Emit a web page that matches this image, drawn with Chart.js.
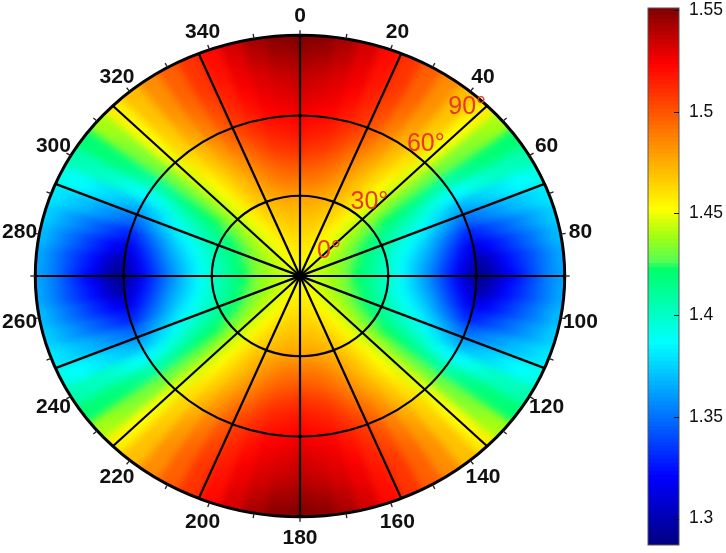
<!DOCTYPE html>
<html>
<head>
<meta charset="utf-8">
<title>Polar map</title>
<script src="https://cdn.jsdelivr.net/npm/chart.js@4"></script>
<style>
  body { margin: 0; background: #fff; overflow: hidden; }
  #polar { position: absolute; left: 0; top: -10px; }
  #bar { position: absolute; left: 640px; top: 0; }
</style>
</head>
<body>
<canvas id="polar" width="620" height="573"></canvas>
<canvas id="bar" width="86" height="553"></canvas>
<script>
// values, one list per azimuth (0-90), from centre to rim in 3 deg rings
const az00 = [1.450,1.451,1.452,1.454,1.457,1.460,1.463,1.467,1.471,1.475,1.481,1.486,1.492,1.498,1.503,1.509,1.513,1.517,1.520,1.523,1.526,1.529,1.531,1.534,1.536,1.538,1.541,1.544,1.547,1.550];
const az05 = [1.451,1.454,1.456,1.458,1.461,1.464,1.467,1.470,1.473,1.476,1.482,1.487,1.492,1.496,1.501,1.506,1.510,1.514,1.517,1.520,1.524,1.526,1.529,1.531,1.533,1.536,1.539,1.542,1.545,1.548];
const az10 = [1.451,1.453,1.456,1.458,1.460,1.463,1.466,1.469,1.472,1.475,1.480,1.485,1.490,1.494,1.499,1.504,1.508,1.512,1.515,1.518,1.522,1.524,1.526,1.528,1.530,1.531,1.534,1.537,1.539,1.542];
const az15 = [1.451,1.453,1.455,1.457,1.459,1.461,1.464,1.467,1.470,1.473,1.477,1.481,1.486,1.489,1.493,1.498,1.502,1.506,1.509,1.512,1.515,1.518,1.520,1.522,1.525,1.526,1.527,1.529,1.531,1.532];
const az20 = [1.451,1.452,1.454,1.456,1.457,1.459,1.462,1.465,1.467,1.470,1.474,1.477,1.480,1.484,1.487,1.490,1.494,1.498,1.502,1.506,1.509,1.510,1.512,1.514,1.515,1.517,1.518,1.519,1.520,1.521];
const az25 = [1.451,1.452,1.453,1.454,1.455,1.457,1.460,1.462,1.464,1.467,1.469,1.472,1.474,1.476,1.479,1.482,1.485,1.489,1.492,1.495,1.498,1.500,1.502,1.504,1.506,1.507,1.508,1.508,1.508,1.509];
const az30 = [1.450,1.451,1.452,1.452,1.453,1.454,1.456,1.458,1.460,1.462,1.464,1.466,1.468,1.469,1.471,1.473,1.476,1.479,1.481,1.484,1.486,1.488,1.490,1.492,1.494,1.495,1.496,1.496,1.496,1.497];
const az35 = [1.450,1.450,1.450,1.450,1.450,1.451,1.452,1.453,1.454,1.455,1.457,1.458,1.460,1.461,1.462,1.464,1.466,1.468,1.470,1.472,1.474,1.476,1.478,1.479,1.481,1.482,1.483,1.483,1.483,1.484];
const az40 = [1.450,1.449,1.449,1.448,1.447,1.447,1.448,1.448,1.448,1.449,1.449,1.450,1.451,1.452,1.453,1.454,1.456,1.458,1.459,1.461,1.463,1.464,1.465,1.466,1.467,1.468,1.469,1.469,1.469,1.470];
const az45 = [1.450,1.448,1.447,1.447,1.446,1.445,1.444,1.443,1.442,1.441,1.441,1.442,1.442,1.442,1.443,1.444,1.445,1.446,1.447,1.448,1.449,1.450,1.450,1.451,1.452,1.452,1.453,1.454,1.455,1.456];
const az50 = [1.449,1.448,1.447,1.445,1.444,1.442,1.440,1.438,1.436,1.434,1.433,1.432,1.432,1.431,1.430,1.430,1.430,1.430,1.430,1.430,1.430,1.431,1.432,1.432,1.433,1.434,1.435,1.437,1.438,1.439];
const az55 = [1.449,1.447,1.445,1.443,1.441,1.439,1.436,1.433,1.430,1.427,1.425,1.423,1.421,1.419,1.417,1.415,1.413,1.410,1.408,1.406,1.406,1.409,1.412,1.414,1.417,1.418,1.419,1.419,1.419,1.420];
const az60 = [1.449,1.446,1.444,1.442,1.439,1.436,1.432,1.428,1.424,1.420,1.416,1.413,1.410,1.407,1.404,1.400,1.396,1.392,1.389,1.385,1.385,1.388,1.392,1.395,1.398,1.401,1.402,1.402,1.404,1.405];
const az65 = [1.449,1.446,1.443,1.440,1.437,1.434,1.429,1.424,1.419,1.414,1.410,1.405,1.401,1.397,1.392,1.388,1.382,1.377,1.372,1.367,1.366,1.369,1.372,1.375,1.378,1.381,1.384,1.386,1.388,1.391];
const az70 = [1.448,1.445,1.442,1.439,1.436,1.432,1.427,1.421,1.415,1.410,1.404,1.399,1.393,1.388,1.383,1.376,1.369,1.362,1.355,1.348,1.347,1.351,1.355,1.359,1.363,1.367,1.370,1.373,1.377,1.380];
const az75 = [1.448,1.445,1.442,1.439,1.436,1.431,1.425,1.418,1.412,1.406,1.400,1.393,1.386,1.380,1.373,1.365,1.356,1.347,1.338,1.329,1.328,1.333,1.338,1.343,1.348,1.353,1.358,1.363,1.368,1.373];
const az80 = [1.448,1.445,1.441,1.438,1.435,1.430,1.423,1.416,1.410,1.403,1.396,1.389,1.381,1.373,1.366,1.357,1.346,1.336,1.326,1.315,1.313,1.319,1.325,1.331,1.337,1.343,1.349,1.355,1.362,1.368];
const az85 = [1.448,1.445,1.441,1.438,1.435,1.429,1.422,1.415,1.408,1.401,1.394,1.385,1.377,1.369,1.360,1.350,1.339,1.328,1.317,1.306,1.296,1.303,1.313,1.322,1.329,1.335,1.342,1.349,1.356,1.363];
const az90 = [1.449,1.446,1.443,1.440,1.436,1.430,1.423,1.416,1.409,1.402,1.395,1.387,1.378,1.368,1.357,1.346,1.335,1.323,1.310,1.298,1.290,1.296,1.306,1.315,1.323,1.332,1.340,1.349,1.356,1.362];
const quadrant = [az00,az05,az10,az15,az20,az25,az30,az35,az40,az45,az50,az55,az60,az65,az70,az75,az80,az85,az90];

const angleTicks = [0,20,40,60,80,100,120,140,160,180,200,220,240,260,280,300,320,340];
const spokeAngles = [0,22.5,45,67.5,90,112.5,135,157.5];
const ringAngles = [30,60];
const ringLabels = ["0°","30°","60°","90°"];

const colorMin = 1.287;
const colorMax = 1.551;
const colorTicks = [1.3,1.35,1.4,1.45,1.5,1.55];
const colorLevels = [1.287,1.289,1.291,1.293,1.295,1.297,1.299,1.301,1.303,1.305,1.307,1.309,1.311,1.313,1.315,1.317,1.319,1.321,1.323,1.325,1.327,1.329,1.331,1.333,1.335,1.337,1.339,1.341,1.343,1.345,1.347,1.349,1.351,1.353,1.355,1.357,1.359,1.361,1.363,1.365,1.367,1.369,1.371,1.373,1.375,1.377,1.379,1.381,1.383,1.385,1.387,1.389,1.391,1.393,1.395,1.397,1.399,1.401,1.403,1.405,1.407,1.409,1.411,1.413,1.415,1.417,1.419,1.421,1.423,1.425,1.427,1.429,1.431,1.433,1.435,1.437,1.439,1.441,1.443,1.445,1.447,1.449,1.451,1.453,1.455,1.457,1.459,1.461,1.463,1.465,1.467,1.469,1.471,1.473,1.475,1.477,1.479,1.481,1.483,1.485,1.487,1.489,1.491,1.493,1.495,1.497,1.499,1.501,1.503,1.505,1.507,1.509,1.511,1.513,1.515,1.517,1.519,1.521,1.523,1.525,1.527,1.529,1.531,1.533,1.535,1.537,1.539,1.541,1.543,1.545,1.547,1.549,1.551];

// colormap: value stops and their colours
const stopValues = [1.287,1.32,1.386,1.423,1.425,1.438,1.4515,1.523,1.551];
const stopColors = [[0,0,130],[0,0,255],[0,255,255],[0,255,100],[80,255,90],[160,255,20],[255,255,0],[255,0,0],[125,0,0]];

function jet(v) {
  var i = 0;
  while (i < stopValues.length - 2 && v > stopValues[i + 1]) i++;
  var f = (v - stopValues[i]) / (stopValues[i + 1] - stopValues[i]);
  f = Math.max(0, Math.min(1, f));
  var a = stopColors[i], b = stopColors[i + 1];
  return "rgb(" + Math.round(a[0] + (b[0] - a[0]) * f) + "," + Math.round(a[1] + (b[1] - a[1]) * f) + "," + Math.round(a[2] + (b[2] - a[2]) * f) + ")";
}

// the other three quadrants mirror the first one
function valueAt(ring, sector) {
  var a = sector * 5;
  if (a > 180) a = 360 - a;
  if (a > 90) a = 180 - a;
  return quadrant[a / 5][ring];
}

function ringSet(r, weight) {
  var cols = [];
  for (var s = 0; s < 72; s++) cols.push(jet(valueAt(r, s)));
  return {
    data: cols.map(function () { return 5; }),
    backgroundColor: cols,
    borderColor: cols,
    borderWidth: 0.6,
    weight: weight,
  };
}

// Rings, outermost dataset first. First one repeats the rim, it only feeds the softening
// pass below and is painted out afterwards
var polarSets = [ringSet(29, 2)];
for (var r = 29; r >= 0; r--) polarSets.push(ringSet(r, 1));

// map is stretched to an ellipse, grid and labels go on top
const yScale = 241 / 265;
const polarPlugin = {
  id: "polarGrid",
  beforeDatasetsDraw: function (chart) {
    var ctx = chart.ctx;
    var arc = chart.getDatasetMeta(1).data[0];
    ctx.save();
    ctx.translate(arc.x, arc.y);
    ctx.scale(1, yScale);
    ctx.translate(-arc.x, -arc.y);
  },
  afterDatasetsDraw: function (chart) {
    var ctx = chart.ctx;
    ctx.restore();
    var arc = chart.getDatasetMeta(1).data[0];
    var cx = arc.x, cy = arc.y, rx = arc.outerRadius, ry = rx * yScale;
    var pt = function (deg, fx, extra) {
      var a = deg * Math.PI / 180;
      return [cx + (rx * fx + extra) * Math.sin(a), cy - (ry * fx + extra) * Math.cos(a)];
    };

    // soften the cell edges, then white out everything past the rim
    ctx.save();
    ctx.beginPath();
    ctx.ellipse(cx, cy, rx, ry, 0, 0, 2 * Math.PI);
    ctx.clip();
    ctx.filter = "blur(4px)";
    ctx.drawImage(chart.canvas, 0, 0);
    ctx.restore();
    ctx.save();
    ctx.fillStyle = "#fff";
    ctx.beginPath();
    ctx.rect(0, 0, chart.width, chart.height);
    ctx.ellipse(cx, cy, rx, ry, 0, 0, 2 * Math.PI);
    ctx.fill("evenodd");
    ctx.restore();

    ctx.strokeStyle = "#000";
    ctx.lineWidth = 2.2;
    ringAngles.forEach(function (d) {
      ctx.beginPath();
      ctx.ellipse(cx, cy, rx * d / 90, ry * d / 90, 0, 0, 2 * Math.PI);
      ctx.stroke();
    });
    spokeAngles.forEach(function (d) {
      var p = pt(d, 1, 0), q = pt(d + 180, 1, 0);
      ctx.beginPath();
      ctx.moveTo(p[0], p[1]);
      ctx.lineTo(q[0], q[1]);
      ctx.stroke();
    });

    ctx.lineWidth = 3;
    ctx.beginPath();
    ctx.ellipse(cx, cy, rx, ry, 0, 0, 2 * Math.PI);
    ctx.stroke();

    // rim ticks every 10 deg
    ctx.lineWidth = 1.3;
    ctx.strokeStyle = "#222";
    for (var d = 0; d < 360; d += 10) {
      var p1 = pt(d, 1, 0), p2 = pt(d, 1, 5);
      ctx.beginPath();
      ctx.moveTo(p1[0], p1[1]);
      ctx.lineTo(p2[0], p2[1]);
      ctx.stroke();
    }

    ctx.fillStyle = "#111";
    ctx.font = "bold 21px 'Liberation Sans'";
    ctx.textAlign = "center";
    ctx.textBaseline = "middle";
    angleTicks.forEach(function (d) {
      var p = pt(d, 1, 20);
      ctx.fillText(String(d), p[0], p[1] + 1);
    });

    // polar angle labels sit beside the 45 deg spoke
    var nudge = [[29, -25], [7, -17], [1, -18], [-20, 1]];
    ctx.fillStyle = "#e8362c";
    ctx.font = "25px 'Liberation Sans'";
    ringLabels.forEach(function (t, i) {
      var p = pt(45, i / 3, 0);
      ctx.fillText(t, p[0] + nudge[i][0], p[1] + nudge[i][1]);
    });
  },
};

new Chart(document.getElementById("polar"), {
  type: "doughnut",
  data: { datasets: polarSets },
  plugins: [polarPlugin],
  options: {
    responsive: false,
    animation: false,
    cutout: 0,
    rotation: -2.5,
    layout: { padding: { left: 17.33, right: 37.33, top: 3.33, bottom: 4.33 } },
    plugins: { legend: { display: false }, tooltip: { enabled: false } },
  },
});

// Colour bar
var barSets = [];
for (var i = 0; i < colorLevels.length - 1; i++) {
  barSets.push({
    data: [[colorLevels[i], colorLevels[i + 1]]],
    backgroundColor: jet((colorLevels[i] + colorLevels[i + 1]) / 2),
    borderWidth: 0,
    inflateAmount: 1,
    barPercentage: 1,
    categoryPercentage: 1,
  });
}

const barFrame = {
  id: "barFrame",
  afterDatasetsDraw: function (chart) {
    var ctx = chart.ctx, area = chart.chartArea, y = chart.scales.y;
    ctx.save();
    ctx.strokeStyle = "#555";
    ctx.lineWidth = 1;
    ctx.strokeRect(area.left, area.top, area.right - area.left, area.bottom - area.top);
    ctx.strokeStyle = "#111";
    colorTicks.forEach(function (v) {
      var py = Math.round(y.getPixelForValue(v)) + 0.5;
      ctx.beginPath();
      ctx.moveTo(area.right - 5, py);
      ctx.lineTo(area.right, py);
      ctx.stroke();
    });
    ctx.restore();
  },
};

new Chart(document.getElementById("bar"), {
  type: "bar",
  data: { labels: [""], datasets: barSets },
  plugins: [barFrame],
  options: {
    responsive: false,
    animation: false,
    layout: { autoPadding: false, padding: { left: 8, right: 0, top: 8, bottom: 8 } },
    plugins: { legend: { display: false }, tooltip: { enabled: false } },
    scales: {
      x: { stacked: true, display: false },
      y: {
        position: "right",
        min: colorMin,
        max: colorMax,
        afterFit: function (s) { s.width = 47; s.paddingTop = 0; s.paddingBottom = 0; },
        afterBuildTicks: function (s) { s.ticks = colorTicks.map(function (v) { return { value: v }; }); },
        border: { display: false },
        grid: { display: false, drawTicks: false },
        ticks: {
          padding: 10,
          color: "#111",
          font: { family: "'Liberation Sans'", size: 17.5 },
          callback: function (v) { return String(v); },
        },
      },
    },
  },
});
</script>
</body>
</html>
